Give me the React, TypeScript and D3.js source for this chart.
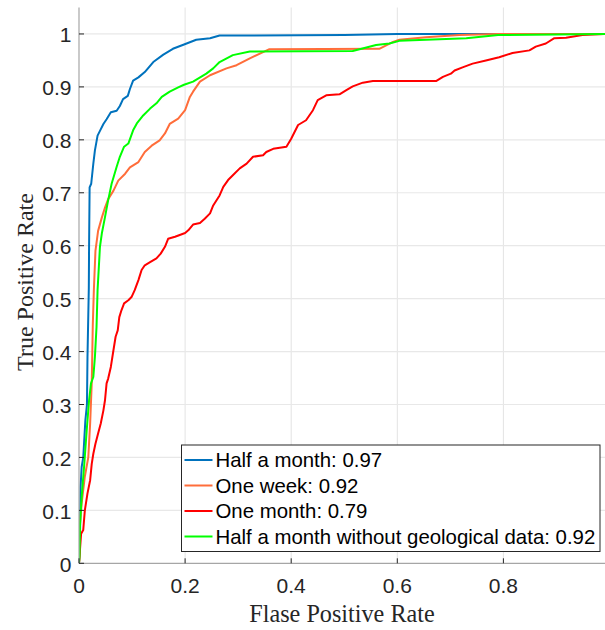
import React from "react";
import * as d3 from "d3";

type Pt = [number, number];

const seriesNames = [
  "Half a month: 0.97",
  "One week: 0.92",
  "One month: 0.79",
  "Half a month without geological data: 0.92",
];
const seriesColors = ["#0072BD", "#FF6D3A", "#FF0000", "#00FF00"];

const xTicks = [0, 0.2, 0.4, 0.6, 0.8];
const yTicks = [0, 0.1, 0.2, 0.3, 0.4, 0.5, 0.6, 0.7, 0.8, 0.9, 1];
const yTickLabels = ["0", "0.1", "0.2", "0.3", "0.4", "0.5", "0.6", "0.7", "0.8", "0.9", "1"];
const xTickLabels = ["0", "0.2", "0.4", "0.6", "0.8"];

const halfMonth: Pt[] = [
  [0, 0], [0.002, 0.06], [0.003, 0.145], [0.005, 0.182], [0.008, 0.2], [0.012, 0.27],
  [0.015, 0.3], [0.016, 0.39], [0.0185, 0.52], [0.019, 0.6], [0.02, 0.71], [0.023, 0.717],
  [0.027, 0.755], [0.03, 0.78], [0.035, 0.808], [0.0395, 0.817], [0.046, 0.83], [0.052, 0.839],
  [0.06, 0.852], [0.071, 0.855], [0.077, 0.864], [0.083, 0.877], [0.092, 0.883], [0.096, 0.896],
  [0.102, 0.912], [0.112, 0.918], [0.124, 0.928], [0.14, 0.947], [0.159, 0.961], [0.177, 0.972],
  [0.198, 0.98], [0.221, 0.989], [0.247, 0.992], [0.265, 0.997], [0.5, 0.998], [0.6, 1.0], [1, 1],
];

const oneWeek: Pt[] = [
  [0, 0], [0.001, 0.014], [0.002, 0.075], [0.005, 0.113], [0.011, 0.164], [0.0175, 0.2],
  [0.021, 0.264], [0.024, 0.34], [0.026, 0.45], [0.028, 0.516], [0.031, 0.59], [0.036, 0.628],
  [0.043, 0.653], [0.049, 0.672], [0.055, 0.688], [0.065, 0.704], [0.074, 0.723], [0.087, 0.736],
  [0.096, 0.748], [0.112, 0.758], [0.124, 0.777], [0.137, 0.789], [0.152, 0.799], [0.162, 0.812],
  [0.171, 0.83], [0.187, 0.84], [0.2, 0.856], [0.209, 0.881], [0.215, 0.891], [0.228, 0.91],
  [0.247, 0.922], [0.278, 0.935], [0.297, 0.941], [0.322, 0.954], [0.341, 0.963], [0.358, 0.971],
  [0.566, 0.972], [0.592, 0.985], [0.604, 0.989], [0.654, 0.994], [0.717, 0.998], [0.79, 1.0], [1, 1],
];

const oneMonth: Pt[] = [
  [0, 0], [0.004, 0.056], [0.008, 0.063], [0.011, 0.1], [0.016, 0.132], [0.021, 0.157],
  [0.024, 0.188], [0.027, 0.207], [0.031, 0.226], [0.036, 0.245], [0.041, 0.264], [0.046, 0.289],
  [0.049, 0.308], [0.052, 0.34], [0.055, 0.349], [0.06, 0.371], [0.065, 0.403], [0.069, 0.428],
  [0.073, 0.44], [0.076, 0.465], [0.08, 0.478], [0.085, 0.491], [0.093, 0.497], [0.099, 0.503],
  [0.105, 0.516], [0.112, 0.535], [0.118, 0.554], [0.124, 0.563], [0.134, 0.569], [0.146, 0.576],
  [0.154, 0.585], [0.162, 0.598], [0.168, 0.613], [0.181, 0.617], [0.2, 0.624], [0.206, 0.629],
  [0.215, 0.64], [0.228, 0.643], [0.237, 0.651], [0.247, 0.661], [0.253, 0.676], [0.265, 0.695],
  [0.272, 0.711], [0.281, 0.724], [0.29, 0.733], [0.303, 0.746], [0.316, 0.755], [0.328, 0.768],
  [0.347, 0.771], [0.353, 0.777], [0.366, 0.783], [0.391, 0.787], [0.4, 0.802], [0.413, 0.828],
  [0.428, 0.837], [0.441, 0.856], [0.45, 0.875], [0.466, 0.884], [0.491, 0.886], [0.504, 0.894],
  [0.516, 0.901], [0.535, 0.908], [0.554, 0.911], [0.673, 0.911], [0.686, 0.919], [0.701, 0.925],
  [0.708, 0.931], [0.723, 0.937], [0.742, 0.944], [0.767, 0.95], [0.792, 0.956], [0.817, 0.964],
  [0.849, 0.969], [0.861, 0.976], [0.88, 0.982], [0.896, 0.992], [0.918, 0.993], [0.949, 0.998],
  [0.99, 1], [1, 1],
];

const halfMonthNoGeo: Pt[] = [
  [0, 0], [0.001, 0.014], [0.002, 0.075], [0.005, 0.125], [0.01, 0.188], [0.0145, 0.251],
  [0.019, 0.308], [0.0226, 0.34], [0.027, 0.352], [0.03, 0.39], [0.033, 0.446], [0.035, 0.516],
  [0.0395, 0.598], [0.043, 0.623], [0.049, 0.654], [0.055, 0.686], [0.0615, 0.717], [0.071, 0.749],
  [0.077, 0.768], [0.085, 0.787], [0.093, 0.793], [0.102, 0.818], [0.109, 0.831], [0.121, 0.846],
  [0.134, 0.859], [0.146, 0.869], [0.156, 0.881], [0.171, 0.891], [0.187, 0.899], [0.198, 0.904],
  [0.215, 0.91], [0.24, 0.925], [0.253, 0.935], [0.265, 0.947], [0.29, 0.96], [0.322, 0.967],
  [0.516, 0.968], [0.56, 0.979], [0.585, 0.982], [0.604, 0.987], [0.73, 0.992], [0.79, 0.998],
  [1, 1],
];

const allSeries = [halfMonth, oneWeek, oneMonth, halfMonthNoGeo];

const W = 605;
const H = 630;

export default function App() {
  const x = d3.scaleLinear().domain([0, 1]).range([79, 609.5]);
  const y = d3.scaleLinear().domain([0, 1.05]).range([563.3, 7.5]);
  const line = d3
    .line<Pt>()
    .x((d) => x(d[0]))
    .y((d) => y(d[1]));

  const sans = "'Liberation Sans', Arial, sans-serif";
  const serif = "'Liberation Serif', 'Times New Roman', serif";

  const legX = 181.5;
  const legY = 445;
  const legW = 418.5;
  const legH = 106.5;
  const rowH = 25.5;

  return (
    <svg
      width={W}
      height={H}
      style={{ position: "absolute", left: 0, top: 0, background: "#fff" }}
    >
      <rect x={0} y={0} width={W} height={H} fill="#fff" />
      <defs>
        <clipPath id="plotclip">
          <rect x={x(0)} y={y(1.05)} width={W} height={y(0) - y(1.05) + 1} />
        </clipPath>
      </defs>
      {/* grid */}
      {xTicks.slice(1).map((t) => (
        <line key={"gx" + t} x1={x(t)} x2={x(t)} y1={y(1.05)} y2={y(0)} stroke="#e3e3e3" strokeWidth={1} />
      ))}
      {yTicks.slice(1).map((t) => (
        <line key={"gy" + t} x1={x(0)} x2={W} y1={y(t)} y2={y(t)} stroke="#e8e8e8" strokeWidth={1.2} />
      ))}
      {/* curves */}
      <g clipPath="url(#plotclip)">
        {allSeries.map((s, i) => (
          <path key={i} d={line(s) || ""} fill="none" stroke={seriesColors[i]} strokeWidth={2} strokeLinejoin="round" />
        ))}
      </g>
      {/* axes */}
      <line x1={x(0)} x2={W} y1={y(0)} y2={y(0)} stroke="#a6a6a6" strokeWidth={1.2} />
      <line x1={x(0)} x2={x(0)} y1={y(1.05)} y2={y(0)} stroke="#a6a6a6" strokeWidth={1.2} />
      {xTicks.map((t) => (
        <line key={"tx" + t} x1={x(t)} x2={x(t)} y1={y(0)} y2={y(0) - 5} stroke="#262626" strokeWidth={1} />
      ))}
      {yTicks.map((t) => (
        <line key={"ty" + t} x1={x(0)} x2={x(0) + 5} y1={y(t)} y2={y(t)} stroke="#262626" strokeWidth={1} />
      ))}
      {xTicks.map((t, i) => (
        <text key={"lx" + t} x={x(t)} y={y(0) + 30} textAnchor="middle" fontFamily={sans} fontSize={21} fill="#262626">
          {xTickLabels[i]}
        </text>
      ))}
      {yTicks.map((t, i) => (
        <text key={"ly" + t} x={71.5} y={y(t) + 8.5} textAnchor="end" fontFamily={sans} fontSize={21} fill="#262626">
          {yTickLabels[i]}
        </text>
      ))}
      <text x={342} y={622} textAnchor="middle" fontFamily={serif} fontSize={24.2} fill="#262626">
        Flase Positive Rate
      </text>
      <text
        transform={`translate(33,282) rotate(-90)`}
        textAnchor="middle"
        fontFamily={serif}
        fontSize={24}
        fill="#262626"
      >
        True Positive Rate
      </text>
      {/* legend */}
      <rect x={legX} y={legY} width={legW} height={legH} fill="#fff" stroke="#262626" strokeWidth={1} />
      {seriesNames.map((n, i) => {
        const cy = legY + 15 + i * rowH;
        return (
          <g key={n}>
            <line x1={legX + 3} x2={legX + 31} y1={cy} y2={cy} stroke={seriesColors[i]} strokeWidth={2} />
            <text x={legX + 34} y={cy + 7} fontFamily={sans} fontSize={20.4} fill="#000">
              {n}
            </text>
          </g>
        );
      })}
    </svg>
  );
}
